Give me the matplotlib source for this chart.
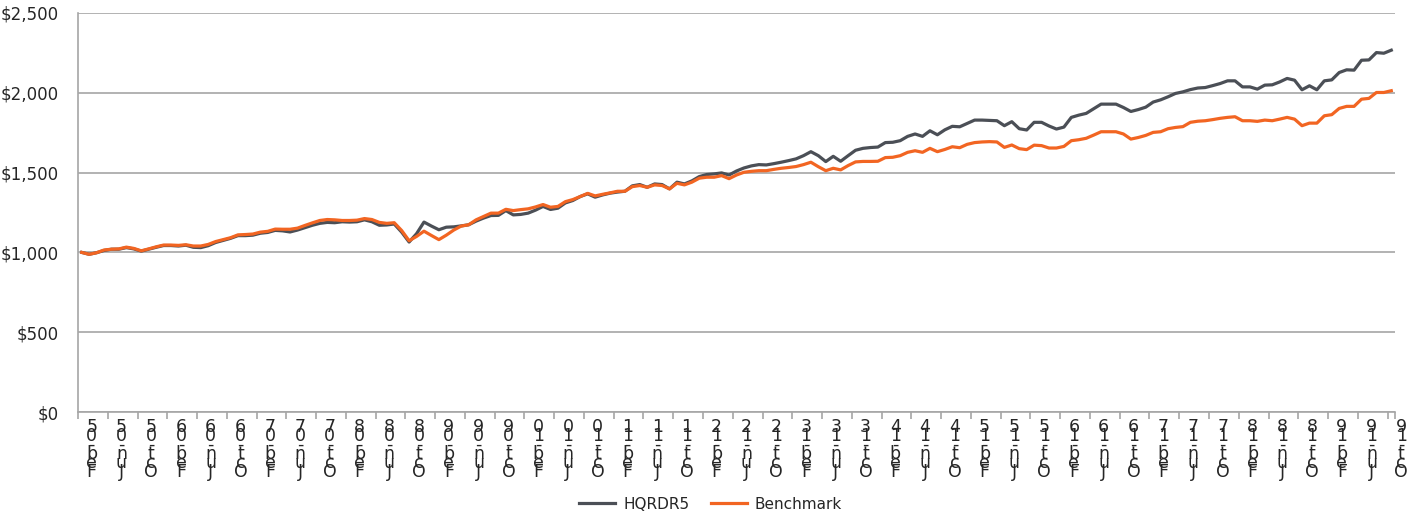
import matplotlib
matplotlib.use("Agg")
import matplotlib.pyplot as plt
import matplotlib.transforms as mtransforms
from matplotlib.ticker import FuncFormatter, FixedLocator
import numpy as np

series_names = ["HQRDR5", "Benchmark"]

hqrdr5 = [
    1000, 988, 998, 1012, 1020, 1020, 1030, 1022, 1008, 1020,
    1032, 1043, 1043, 1040, 1045, 1032, 1030, 1042, 1062, 1075,
    1088, 1105, 1105, 1108, 1120, 1125, 1138, 1135, 1128, 1140,
    1155, 1170, 1182, 1188, 1186, 1192, 1190, 1192, 1204, 1192,
    1170, 1172, 1178, 1127, 1065, 1117, 1190, 1165, 1142, 1158,
    1160, 1166, 1173, 1196, 1215, 1231, 1232, 1262, 1235, 1238,
    1246, 1265, 1288, 1269, 1277, 1310, 1325, 1350, 1367, 1346,
    1360, 1371, 1378, 1383, 1417, 1425, 1408, 1429, 1425, 1398,
    1440, 1429, 1448, 1475, 1488, 1492, 1498, 1485, 1510, 1529,
    1542, 1550, 1548, 1556, 1565, 1575, 1586, 1606, 1631, 1606,
    1569, 1602, 1571, 1606, 1640, 1652, 1657, 1660, 1688, 1690,
    1700, 1727, 1742, 1727, 1762, 1737, 1768, 1790, 1787, 1808,
    1829, 1829, 1827, 1825, 1794, 1819, 1775, 1767, 1815, 1815,
    1792, 1773, 1785, 1846, 1860, 1871, 1900, 1929, 1929, 1929,
    1908, 1883, 1895, 1910, 1942, 1956, 1975, 1996, 2006, 2020,
    2030, 2033, 2045, 2058, 2075, 2075, 2037, 2037, 2023, 2048,
    2050, 2068, 2090, 2079, 2019, 2044, 2019, 2075, 2081, 2127,
    2144, 2142, 2204, 2206, 2252, 2248, 2267,
]

benchmark = [
    1000, 988, 998, 1015, 1020, 1022, 1033, 1025, 1010, 1022,
    1035, 1046, 1046, 1044, 1048, 1040, 1040, 1050, 1068, 1080,
    1092, 1110, 1112, 1115, 1127, 1132, 1146, 1145, 1145, 1152,
    1169, 1185, 1200, 1206, 1204, 1200, 1200, 1202, 1212, 1206,
    1188, 1182, 1186, 1137, 1073, 1100, 1133, 1106, 1080, 1108,
    1140, 1165, 1173, 1204, 1225, 1246, 1246, 1270, 1262, 1268,
    1273, 1285, 1300, 1283, 1288, 1318, 1331, 1350, 1370, 1354,
    1364, 1373, 1383, 1383, 1412, 1419, 1408, 1423, 1419, 1398,
    1433, 1423, 1440, 1465, 1471, 1471, 1481, 1462, 1485, 1502,
    1508, 1512, 1512, 1520, 1527, 1532, 1538, 1550, 1565, 1537,
    1512, 1527, 1517, 1544, 1567, 1570, 1570, 1571, 1594, 1596,
    1606, 1627, 1637, 1627, 1652, 1631, 1645, 1662, 1656, 1677,
    1688, 1692, 1694, 1692, 1658, 1673, 1650, 1644, 1672, 1669,
    1654, 1654, 1664, 1700, 1706, 1715, 1735, 1756, 1756, 1756,
    1742, 1710, 1720, 1733, 1752, 1756, 1775, 1783, 1788, 1815,
    1822, 1825, 1832, 1840, 1846, 1850, 1825, 1825, 1821, 1829,
    1825, 1835, 1846, 1835, 1794, 1810, 1810, 1856, 1863, 1902,
    1915, 1915, 1960, 1965, 2002, 2002, 2013,
]

tick_labels = [
    "Feb-05", "Jun-05", "Oct-05", "Feb-06", "Jun-06", "Oct-06",
    "Feb-07", "Jun-07", "Oct-07", "Feb-08", "Jun-08", "Oct-08",
    "Feb-09", "Jun-09", "Oct-09", "Feb-10", "Jun-10", "Oct-10",
    "Feb-11", "Jun-11", "Oct-11", "Feb-12", "Jun-12", "Oct-12",
    "Feb-13", "Jun-13", "Oct-13", "Feb-14", "Jun-14", "Oct-14",
    "Feb-15", "Jun-15", "Oct-15", "Feb-16", "Jun-16", "Oct-16",
    "Feb-17", "Jun-17", "Oct-17", "Feb-18", "Jun-18", "Oct-18",
    "Feb-19", "Jun-19", "Oct-19",
]
label_step = 4

y_ticks = [0, 500, 1000, 1500, 2000, 2500]

gray = "#4b4f56"
orange = "#f26522"
grid_c = "#a6a6a6"
text_c = "#262626"

fig = plt.figure(figsize=(14.21, 5.16), dpi=100)
ax = fig.add_axes([78 / 1421, 1 - 412 / 516, (1395 - 78) / 1421, (412 - 13) / 516])

x = np.arange(len(hqrdr5))
ax.plot(x, hqrdr5, color=gray, lw=2.3, label=series_names[0], solid_joinstyle="round", zorder=3)
ax.plot(x, benchmark, color=orange, lw=2.3, label=series_names[1], solid_joinstyle="round", zorder=4)

ax.set_xlim(-0.5, len(hqrdr5) - 0.5)
ax.set_ylim(0, 2500)
ax.set_yticks(y_ticks)
ax.yaxis.set_major_formatter(FuncFormatter(lambda v, p: "${:,.0f}".format(v)))
ax.grid(axis="y", color=grid_c, lw=1.2)
ax.set_axisbelow(True)
for s in ["top", "right"]:
    ax.spines[s].set_visible(False)
for s in ["left", "bottom"]:
    ax.spines[s].set_color(grid_c)
    ax.spines[s].set_linewidth(1.2)
ax.tick_params(axis="y", length=0, pad=14, labelsize=12, labelcolor=text_c)

# x labels: stacked characters, Excel-like
label_pos = np.arange(len(tick_labels)) * label_step
ax.set_xticks(label_pos)
stacked = ["\n".join(reversed(t)) for t in tick_labels]
ax.set_xticklabels(stacked, fontsize=12.5, color=text_c, linespacing=0.37,
                   family=["Liberation Sans Narrow", "DejaVu Sans"], va="top")
ax.tick_params(axis="x", which="major", length=0, pad=4)
minor_pos = list(np.arange(-0.5, len(hqrdr5), label_step)) + [len(hqrdr5) - 0.5]
ax.xaxis.set_minor_locator(FixedLocator(minor_pos))
ax.tick_params(axis="x", which="minor", length=5, width=1.2, color=grid_c)
offset = mtransforms.ScaledTranslation(10 / 100, 0, fig.dpi_scale_trans)
for lab in ax.get_xticklabels():
    lab.set_transform(lab.get_transform() + offset)

fig.legend(loc="center", bbox_to_anchor=(0.5, 0.023), ncol=2, frameon=False,
           fontsize=11, handlelength=2.4, columnspacing=1.4, handletextpad=0.5,
           labelcolor=text_c)

fig.savefig("out.png", dpi=100)
